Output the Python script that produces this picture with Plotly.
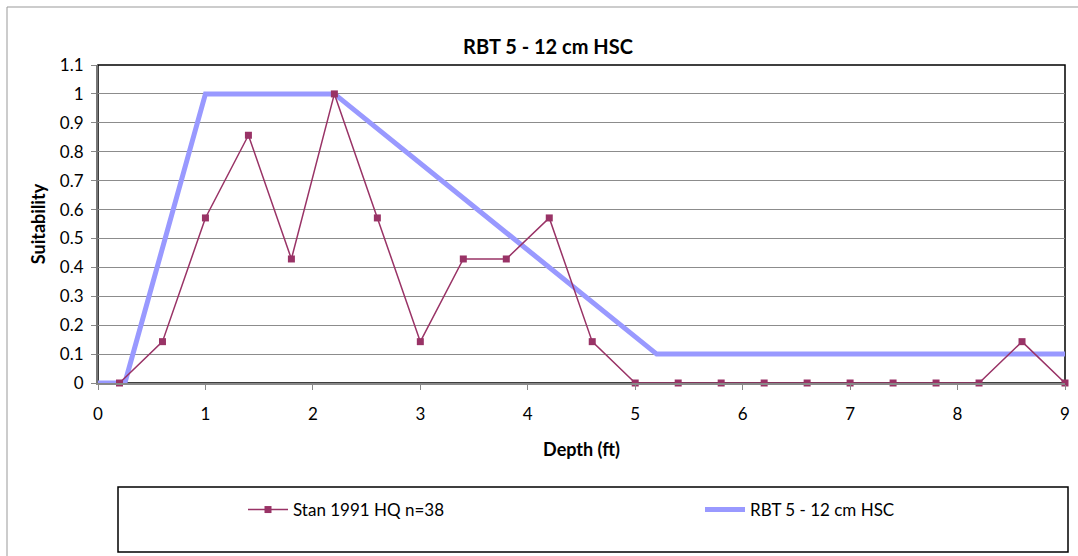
import plotly.graph_objects as go

# Stan 1991 HQ n=38 observations
stan_depth = [0.2, 0.6, 1.0, 1.4, 1.8, 2.2, 2.6, 3.0, 3.4, 3.8, 4.2, 4.6,
              5.0, 5.4, 5.8, 6.2, 6.6, 7.0, 7.4, 7.8, 8.2, 8.6, 9.0]
stan_suit = [0, 0.143, 0.571, 0.857, 0.429, 1.0, 0.571, 0.143, 0.429, 0.429, 0.571, 0.143,
             0, 0, 0, 0, 0, 0, 0, 0, 0, 0.143, 0]

# HSC curve
hsc_depth = [0, 0.25, 1.0, 2.2, 5.2, 9.0]
hsc_suit = [0, 0, 1.0, 1.0, 0.1, 0.1]

FONT = "Lato, 'Open Sans', sans-serif"

fig = go.Figure()
fig.add_trace(go.Scatter(x=hsc_depth, y=hsc_suit, mode="lines", name="RBT 5 - 12 cm HSC",
                         line=dict(color="#9999FF", width=5), cliponaxis=False, legend="legend2"))
fig.add_trace(go.Scatter(x=stan_depth, y=stan_suit, mode="lines+markers", name="Stan 1991 HQ n=38",
                         line=dict(color="#993366", width=1.5),
                         marker=dict(symbol="square", size=7, color="#993366"), cliponaxis=False,
                         legend="legend"))

W, H = 1078, 556
L, R, T, B = 98, 13, 65, 173
pw, ph = W - L - R, H - T - B
px = lambda x: (x - L) / pw
py = lambda y: (H - B - y) / ph

leg = dict(xanchor="left", yanchor="middle", bgcolor="rgba(0,0,0,0)", font=dict(size=17),
           itemwidth=40)

fig.update_layout(
    width=W, height=H, plot_bgcolor="white", paper_bgcolor="white",
    margin=dict(l=L, r=R, t=T, b=B, autoexpand=False), showlegend=True,
    font=dict(family=FONT, size=17, color="black"),
    title=dict(text="<b>RBT 5 - 12 cm HSC</b>", x=548 / W, xanchor="center",
               y=1 - 47 / H, yanchor="middle", font=dict(size=20)),
    xaxis=dict(range=[0, 9], dtick=1, showgrid=False, ticks="outside", ticklen=5,
               tickcolor="#888", showline=True, linecolor="#888", linewidth=2,
               zeroline=False, ticklabelstandoff=10,
               title=dict(text="<b>Depth (ft)</b>", font=dict(size=18), standoff=20)),
    yaxis=dict(range=[0, 1.1], dtick=0.1, showgrid=True, gridcolor="#8c8c8c", gridwidth=1,
               ticks="outside", ticklen=5, tickcolor="#888", showline=True,
               linecolor="#777", linewidth=2, zeroline=False, ticklabelstandoff=4,
               title=dict(text="<b>Suitability</b>", font=dict(size=18), standoff=10)),
    legend=dict(x=px(243), y=py(510), **leg),
    legend2=dict(x=px(700), y=py(510), **leg),
    shapes=[
        dict(type="rect", xref="paper", yref="paper", x0=0, x1=1, y0=0, y1=1,
             line=dict(color="black", width=1.5), layer="below"),
        dict(type="rect", xref="paper", yref="paper", x0=px(118), x1=px(1068),
             y0=py(552), y1=py(487), line=dict(color="black", width=1.5)),
        dict(type="rect", xref="paper", yref="paper", x0=px(7), x1=px(1080),
             y0=py(560), y1=py(7), line=dict(color="#999", width=1)),
    ],
)

fig.write_html("out.html", config={"displayModeBar": False},
               post_script="document.body.style.margin='0';")
